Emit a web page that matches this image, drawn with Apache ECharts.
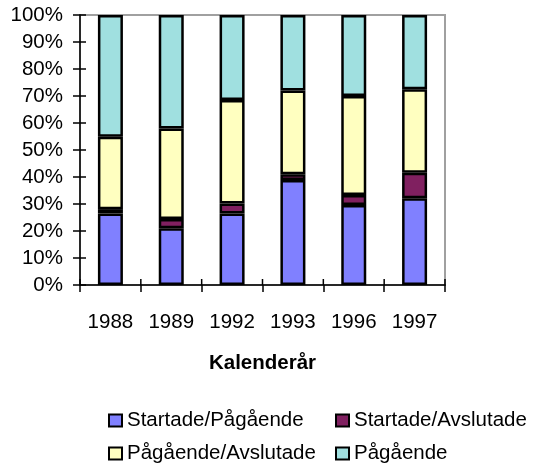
<!DOCTYPE html>
<html>
<head>
<meta charset="utf-8">
<script src="https://cdn.jsdelivr.net/npm/echarts@6/dist/echarts.min.js"></script>
<style>html,body{margin:0;padding:0;background:#fff}#c{width:538px;height:468px}</style>
</head>
<body>
<div id="c"></div>
<script>
const years = ['1988', '1989', '1992', '1993', '1996', '1997'];
const startadePagaende = [26.5, 21.0, 26.5, 38.9, 29.6, 32.1];
const startadeAvslutade = [1.6, 3.4, 3.7, 2.1, 3.7, 9.5];
const pagaendeAvslutade = [26.8, 33.6, 38.3, 31.0, 36.7, 30.9];
const pagaende = [45.1, 42.0, 31.5, 28.0, 30.0, 27.5];
const yTicks = [0, 10, 20, 30, 40, 50, 60, 70, 80, 90, 100];
const seriesNames = ['Startade/Pågående', 'Startade/Avslutade', 'Pågående/Avslutade', 'Pågående'];
const seriesColors = ['#8080FF', '#802060', '#FFFFC0', '#A0E0E0'];
const seriesData = [startadePagaende, startadeAvslutade, pagaendeAvslutade, pagaende];

const FONT = 'Liberation Sans, Arial, sans-serif';
const FS = 20.5;

const chart = echarts.init(document.getElementById('c'), null, {renderer: 'canvas'});

const legendPos = [
  {left: 108, top: 410},
  {left: 335, top: 410},
  {left: 108, top: 443},
  {left: 335, top: 443}
];

const tickStyle = {color: '#000', width: 1.5};

chart.setOption({
  animation: false,
  backgroundColor: '#fff',
  grid: {left: 80, right: 93, top: 15, bottom: 183, show: true, borderColor: '#a0a0a0', borderWidth: 2, backgroundColor: 'transparent'},
  legend: seriesNames.map((n, i) => ({
    data: [n],
    left: legendPos[i].left,
    top: legendPos[i].top,
    itemWidth: 13,
    itemHeight: 12,
    itemGap: 0,
    padding: 0,
    icon: 'rect',
    selectedMode: false,
    textStyle: {fontFamily: FONT, fontSize: FS, color: '#000'},
    itemStyle: {borderColor: '#000', borderWidth: 2}
  })),
  xAxis: {
    type: 'category',
    data: years,
    position: 'bottom',
    axisLine: {lineStyle: {color: '#000', width: 1.5}},
    axisTick: {show: true, length: 7, lineStyle: tickStyle},
    axisLabel: {fontFamily: FONT, fontSize: FS, color: '#000', margin: 27},
    name: 'Kalenderår',
    nameLocation: 'middle',
    nameGap: 68,
    nameTextStyle: {fontFamily: FONT, fontSize: FS, fontWeight: 'bold', color: '#000'}
  },
  yAxis: {
    type: 'value',
    min: 0,
    max: 100,
    interval: 10,
    position: 'left',
    axisLine: {show: true, lineStyle: {color: '#000', width: 1.5}},
    axisTick: {show: true, length: 7, lineStyle: tickStyle},
    axisLabel: {fontFamily: FONT, fontSize: FS, color: '#000', margin: 17, formatter: '{value}%'},
    splitLine: {show: false}
  },
  series: seriesNames.map((n, i) => ({
    name: n,
    type: 'bar',
    stack: 'total',
    barWidth: 25,
    data: seriesData[i],
    itemStyle: {color: seriesColors[i], borderColor: '#000', borderWidth: 2.5}
  }))
});

// inner halves of the crossing tick marks, placed through the axes' own scales
const x0 = chart.convertToPixel({xAxisIndex: 0}, 0);
const x1 = chart.convertToPixel({xAxisIndex: 0}, 1);
const band = x1 - x0;
const axisX = x0 - band / 2;
const axisY = chart.convertToPixel({yAxisIndex: 0}, 0);
const els = [];
yTicks.forEach(v => {
  const y = chart.convertToPixel({yAxisIndex: 0}, v);
  els.push({type: 'line', shape: {x1: axisX, y1: y, x2: axisX + 6, y2: y}, style: {stroke: '#000', lineWidth: 1.5}, z: 100});
});
for (let i = 0; i <= years.length; i++) {
  const x = axisX + i * band;
  els.push({type: 'line', shape: {x1: x, y1: axisY, x2: x, y2: axisY - 6}, style: {stroke: '#000', lineWidth: 1.5}, z: 100});
}
chart.setOption({graphic: els});
</script>
</body>
</html>
